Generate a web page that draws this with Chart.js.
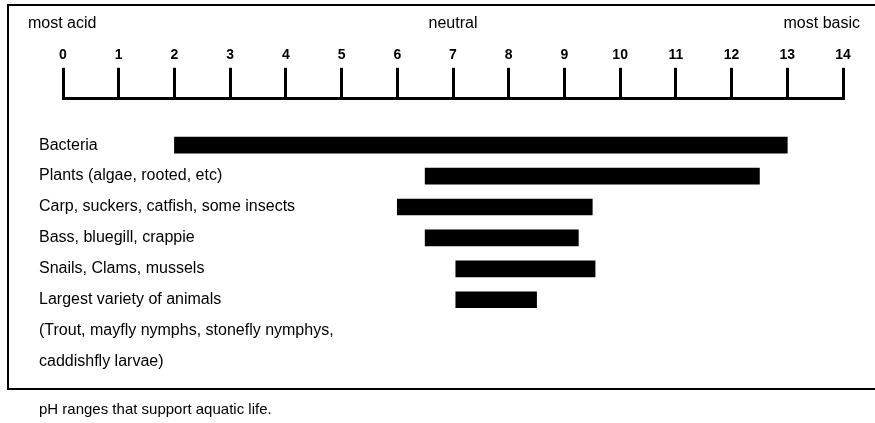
<!DOCTYPE html>
<html>
<head>
<meta charset="utf-8">
<script src="https://cdn.jsdelivr.net/npm/chart.js@4.4.0/dist/chart.umd.min.js"></script>
<style>
  body { margin: 0; background: #fff; }
  #wrap { width: 875px; height: 423px; position: relative; }
</style>
</head>
<body>
<div id="wrap"><canvas id="phChart"></canvas></div>
<script>
// Rows of the chart (first row left empty so the bars sit below the scale)
var rows = [
    "",
    "Bacteria",
    "Plants (algae, rooted, etc)",
    "Carp, suckers, catfish, some insects",
    "Bass, bluegill, crappie",
    "Snails, Clams, mussels",
    "Largest variety of animals",
    "(Trout, mayfly nymphs, stonefly nymphys,",
    "caddishfly larvae)"
];
// pH range of each row (null = text only)
var phLow = [null, 2, 6.5, 6, 6.5, 7.05, 7.05, null, null];
var phHigh = [null, 13, 12.5, 9.5, 9.25, 9.55, 8.5, null, null];
// words printed above the scale
var scaleWords = ["most acid", "neutral", "most basic"];
var scaleWordAt = [0, 7, 14];
var caption = "pH ranges that support aquatic life.";

var ranges = rows.map(function (r, i) {
    return phLow[i] === null ? null : [phLow[i], phHigh[i]];
});

// frame around the chart (open on the right, like the original crop) and the words above the scale
var framePlugin = {
    id: "frame",
    afterDraw: function (chart) {
        var ctx = chart.ctx;
        var xs = chart.scales.x;
        ctx.save();
        ctx.strokeStyle = "#000";
        ctx.lineWidth = 2;
        ctx.strokeRect(8, 5, chart.width + 10, chart.chartArea.bottom + 12 - 5);
        ctx.fillStyle = "#000";
        ctx.font = "16px 'Liberation Sans', Arial, sans-serif";
        ctx.textBaseline = "middle";
        ctx.textAlign = "left";
        ctx.fillText(scaleWords[0], xs.getPixelForValue(scaleWordAt[0]) - 35, 24);
        ctx.textAlign = "center";
        ctx.fillText(scaleWords[1], xs.getPixelForValue(scaleWordAt[1]), 24);
        ctx.textAlign = "right";
        ctx.fillText(scaleWords[2], xs.getPixelForValue(scaleWordAt[2]) + 17, 24);
        ctx.restore();
    }
};

var ctx = document.getElementById("phChart").getContext("2d");
var phChart = new Chart(ctx, {
    type: "bar",
    data: {
        labels: rows,
        datasets: [
            {
                data: ranges,
                backgroundColor: "#000",
                borderSkipped: false,
                barThickness: 16
            }
        ]
    },
    options: {
        indexAxis: "y",
        responsive: true,
        maintainAspectRatio: false,
        animation: false,
        devicePixelRatio: 1,
        layout: {
            padding: { left: 39, top: 43, right: 32, bottom: 0 }
        },
        scales: {
            x: {
                type: "linear",
                position: "top",
                min: 0,
                max: 14,
                ticks: {
                    stepSize: 1,
                    color: "#000",
                    padding: 4,
                    font: { family: "'Liberation Sans', Arial, sans-serif", size: 14, weight: "bold" }
                },
                grid: {
                    drawOnChartArea: false,
                    drawTicks: true,
                    tickLength: 31,
                    tickWidth: 3,
                    lineWidth: 3,
                    color: "#000",
                    tickColor: "#000"
                },
                border: { display: true, width: 3, color: "#000" }
            },
            y: {
                type: "category",
                position: "left",
                offset: true,
                afterFit: function (scale) {
                    scale.width = 24;
                },
                ticks: {
                    // mirrored labels are not clipped, so they can run into the plot
                    mirror: true,
                    crossAlign: "near",
                    padding: -24,
                    color: "#000",
                    autoSkip: false,
                    font: { family: "'Liberation Sans', Arial, sans-serif", size: 16 }
                },
                grid: { display: false, drawTicks: false },
                border: { display: false }
            }
        },
        plugins: {
            legend: { display: false },
            tooltip: { enabled: false },
            title: {
                display: true,
                text: caption,
                position: "bottom",
                align: "start",
                color: "#000",
                font: { family: "'Liberation Sans', Arial, sans-serif", size: 15, weight: "normal" },
                padding: { top: 24, bottom: 4 }
            }
        }
    },
    plugins: [framePlugin]
});
</script>
</body>
</html>
